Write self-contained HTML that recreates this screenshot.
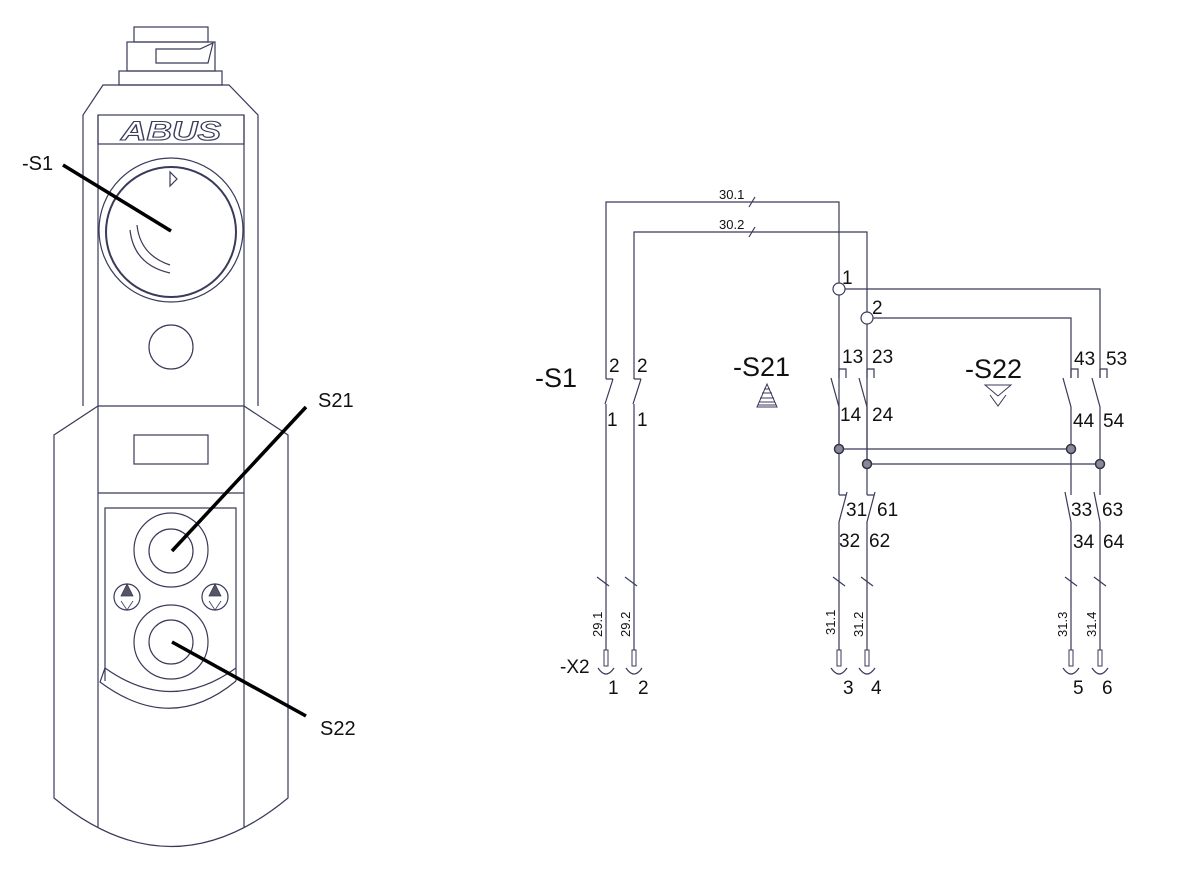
<!DOCTYPE html>
<html><head><meta charset="utf-8"><style>
html,body{margin:0;padding:0;background:#fff;}
svg{display:block;}
text{font-family:"Liberation Sans",sans-serif;fill:#111;}
</style></head><body>
<svg width="1182" height="874" viewBox="0 0 1182 874" xmlns="http://www.w3.org/2000/svg">
<g fill="none" stroke="#3a3a5a" stroke-width="1.2">
  <rect x="134" y="27" width="74" height="15"/>
  <rect x="127" y="42" width="88" height="29"/>
  <path d="M156 49 H200 L213 43 L208 63 H156 Z"/>
  <rect x="119" y="71" width="103" height="14"/>
  <path d="M83 406 V115 L103 85 H229 L258 115 V406"/>
  <line x1="98" y1="115" x2="98" y2="406"/>
  <line x1="244" y1="115" x2="244" y2="406"/>
  <rect x="98" y="115" width="146" height="29"/>
  <circle cx="171" cy="230" r="72"/>
  <circle cx="171" cy="232" r="65" stroke-width="2"/>
  <path d="M170 172 L170 186 L177 179 Z"/>
  <path d="M130 230 Q134 265 170 273"/>
  <path d="M137 225 Q140 255 170 265"/>
  <circle cx="171" cy="347" r="22"/>
  <path d="M98 406 H244 L288 435 V798 Q171 895 54 798 V435 Z"/>
  <line x1="98" y1="406" x2="98" y2="827"/>
  <line x1="244" y1="406" x2="244" y2="827"/>
  <rect x="134" y="435" width="74" height="29"/>
  <line x1="98" y1="493" x2="244" y2="493"/>
  <path d="M105 681 V508 H236 V681"/>
  <path d="M105 668 L100 682 Q171 735 236 681"/>
  <path d="M105 668 Q171 715 236 668"/>
  <circle cx="171" cy="550" r="37"/>
  <circle cx="171" cy="551" r="22"/>
  <circle cx="171" cy="642" r="37"/>
  <circle cx="171" cy="642" r="22"/>
  <circle cx="127" cy="597" r="13"/>
  <circle cx="215" cy="597" r="13"/>
</g>
<g fill="#556" stroke="#3a3a5a" stroke-width="0.8">
  <path d="M127 584 L121 596 H133 Z"/><path d="M121 601 L127 610 L133 601" fill="none"/>
  <path d="M215 584 L209 596 H221 Z"/><path d="M209 601 L215 610 L221 601" fill="none"/>
</g>
<text x="171" y="140" text-anchor="middle" font-size="27" font-style="italic" font-weight="bold" style="fill:#fff;stroke:#3a3a5a;stroke-width:1.1" textLength="100" lengthAdjust="spacingAndGlyphs">ABUS</text>
<g stroke="#000" stroke-width="3.5">
  <line x1="63" y1="165" x2="171" y2="231"/>
  <line x1="306" y1="407" x2="172" y2="551"/>
  <line x1="172" y1="642" x2="306" y2="716"/>
</g>
<text x="22" y="170" font-size="20">-S1</text>
<text x="318" y="407" font-size="20">S21</text>
<text x="320" y="735" font-size="20">S22</text>

<g fill="none" stroke="#3a3a5a" stroke-width="1.2">
  <path d="M606 379 V202 H839 V449"/>
  <path d="M634 379 V232 H867 V464"/>
  <line x1="749" y1="207" x2="755" y2="197"/>
  <line x1="749" y1="237" x2="755" y2="227"/>
  <path d="M839 289 H1100 V378"/>
  <path d="M867 318 H1071 V378"/>
  <path d="M606 379 H613 M613 379 L605 404 M606 404 V650"/>
  <path d="M634 379 H641 M641 379 L633 404 M634 404 V650"/>
  <path d="M839 369 V378 M839 369 H846 V378 M831 378 L839 407 V495"/>
  <path d="M867 369 V378 M867 369 H874 V378 M859 378 L867 407 V495"/>
  <path d="M1071 369 V378 M1071 369 H1078 V378 M1063 378 L1071 407 V495"/>
  <path d="M1100 369 V378 M1100 369 H1107 V378 M1092 378 L1100 407 V495"/>
  <line x1="839" y1="449" x2="1071" y2="449"/>
  <line x1="867" y1="464" x2="1100" y2="464"/>
  <path d="M839 495 H846 M847 492 L839 522 V650"/>
  <path d="M867 495 H874 M875 492 L867 522 V650"/>
  <path d="M1065 492 L1071 522 V650"/>
  <path d="M1094 492 L1100 522 V650"/>
  <line x1="597" y1="577" x2="609" y2="586"/>
  <line x1="625" y1="577" x2="637" y2="586"/>
  <line x1="833" y1="577" x2="845" y2="586"/>
  <line x1="861" y1="577" x2="873" y2="586"/>
  <line x1="1065" y1="577" x2="1077" y2="586"/>
  <line x1="1094" y1="577" x2="1106" y2="586"/>
  <g stroke-width="1">
    <rect x="604" y="650" width="4" height="16"/><rect x="632" y="650" width="4" height="16"/>
    <rect x="837" y="650" width="4" height="16"/><rect x="865" y="650" width="4" height="16"/>
    <rect x="1069" y="650" width="4" height="16"/><rect x="1098" y="650" width="4" height="16"/>
  </g>
  <path d="M598 668 Q606 680 614 668"/><path d="M626 668 Q634 680 642 668"/>
  <path d="M831 668 Q839 680 847 668"/><path d="M859 668 Q867 680 875 668"/>
  <path d="M1063 668 Q1071 680 1079 668"/><path d="M1092 668 Q1100 680 1108 668"/>
  <circle cx="839" cy="289" r="6" fill="#fff"/>
  <circle cx="867" cy="318" r="6" fill="#fff"/>
</g>
<g fill="#889" stroke="#334" stroke-width="1.5">
  <circle cx="839" cy="449" r="4.5"/><circle cx="867" cy="464" r="4.5"/>
  <circle cx="1071" cy="449" r="4.5"/><circle cx="1100" cy="464" r="4.5"/>
</g>
<g fill="none" stroke="#3a3a5a" stroke-width="1">
  <path d="M767 384 L757 407 H777 Z M760 398 H774 M762 393 H772 M764 389 H770 M759 402 H775 M758 405 H776"/>
  <path d="M985 385 H1011 L998 396 Z M990 395 L998 406 L1006 395"/>
</g>
<g font-size="13">
  <text x="719" y="199">30.1</text>
  <text x="719" y="229">30.2</text>
</g>
<g font-size="13">
  <text transform="translate(602,637) rotate(-90)">29.1</text>
  <text transform="translate(630,637) rotate(-90)">29.2</text>
  <text transform="translate(835,635) rotate(-90)">31.1</text>
  <text transform="translate(863,637) rotate(-90)">31.2</text>
  <text transform="translate(1067,637) rotate(-90)">31.3</text>
  <text transform="translate(1096,637) rotate(-90)">31.4</text>
</g>
<g font-size="27">
  <text x="535" y="387">-S1</text>
  <text x="733" y="376">-S21</text>
  <text x="965" y="378">-S22</text>
</g>
<g font-size="19">
  <text x="842" y="284">1</text>
  <text x="872" y="314">2</text>
  <text x="609" y="372">2</text><text x="637" y="372">2</text>
  <text x="607" y="426">1</text><text x="637" y="426">1</text>
  <text x="842" y="363">13</text><text x="872" y="363">23</text>
  <text x="840" y="421">14</text><text x="872" y="421">24</text>
  <text x="1074" y="365">43</text><text x="1106" y="365">53</text>
  <text x="1073" y="427">44</text><text x="1103" y="427">54</text>
  <text x="846" y="516">31</text><text x="877" y="516">61</text>
  <text x="839" y="547">32</text><text x="869" y="547">62</text>
  <text x="1071" y="516">33</text><text x="1102" y="516">63</text>
  <text x="1073" y="548">34</text><text x="1103" y="548">64</text>
  <text x="560" y="673">-X2</text>
  <text x="608" y="694">1</text><text x="638" y="694">2</text>
  <text x="843" y="694">3</text><text x="871" y="694">4</text>
  <text x="1073" y="694">5</text><text x="1102" y="694">6</text>
</g>
</svg>
</body></html>
